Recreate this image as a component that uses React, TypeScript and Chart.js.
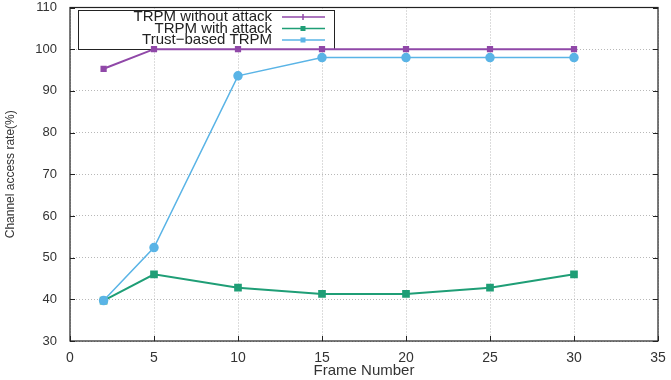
import React, { useEffect, useRef } from "react";
import { Chart, registerables } from "chart.js";

Chart.register(...registerables);

const frames = [2, 5, 10, 15, 20, 25, 30];
const withoutAttack = [95.3, 100, 100, 100, 100, 100, 100];
const withAttack = [39.7, 46, 42.8, 41.3, 41.3, 42.8, 46];
const trustBased = [39.7, 52.4, 93.6, 98, 98, 98, 98];
const seriesLabels = ["TRPM without attack", "TRPM with attack", "Trust\u2212based TRPM"];
const seriesColors = ["#9048a8", "#1f9e76", "#5ab4e6"];
const xTicks = [0, 5, 10, 15, 20, 25, 30, 35];
const yTicks = [30, 40, 50, 60, 70, 80, 90, 100, 110];

const FONT = "'Liberation Sans', Arial, sans-serif";

const legendPlugin = {
  id: "boxLegend",
  beforeDatasetsDraw(chart: any) {
    const ctx = chart.ctx;
    const x0 = 78, y0 = 10, w = 256, h = 39;
    ctx.save();
    ctx.fillStyle = "#ffffff";
    ctx.fillRect(x0, y0, w, h);
    ctx.strokeStyle = "#222";
    ctx.lineWidth = 1;
    ctx.strokeRect(x0 + 0.5, y0 + 0.5, w, h);
    ctx.font = `15px ${FONT}`;
    ctx.textAlign = "right";
    ctx.textBaseline = "middle";
    const rows = [17, 28.5, 40];
    chart.data.datasets.forEach((ds: any, i: number) => {
      const y = rows[i];
      ctx.fillStyle = "#222";
      ctx.fillText(ds.label, 272, y);
      ctx.strokeStyle = ds.borderColor;
      ctx.lineWidth = 1.5;
      ctx.beginPath();
      ctx.moveTo(282, y);
      ctx.lineTo(325, y);
      ctx.stroke();
      ctx.fillStyle = ds.borderColor;
      const cx = 303;
      if (i === 0) {
        ctx.beginPath();
        ctx.moveTo(cx, y - 3);
        ctx.lineTo(cx, y + 3);
        ctx.stroke();
      } else {
        ctx.fillRect(cx - 2.5, y - 2.5, 5, 5);
      }
    });
    ctx.restore();
  },
};

const tickPlugin = {
  id: "innerTicks",
  afterDatasetsDraw(chart: any) {
    const { ctx, chartArea: a, scales } = chart;
    ctx.save();
    ctx.strokeStyle = "#222";
    ctx.lineWidth = 1;
    ctx.beginPath();
    yTicks.forEach((v) => {
      const y = Math.round(scales.y.getPixelForValue(v)) + 0.5;
      ctx.moveTo(a.left, y);
      ctx.lineTo(a.left + 5, y);
      ctx.moveTo(a.right, y);
      ctx.lineTo(a.right - 5, y);
    });
    xTicks.forEach((v) => {
      const x = Math.round(scales.x.getPixelForValue(v)) + 0.5;
      ctx.moveTo(x, a.bottom);
      ctx.lineTo(x, a.bottom - 5);
    });
    ctx.stroke();
    ctx.lineWidth = 1.2;
    ctx.strokeRect(a.left, a.top, a.right - a.left, a.bottom - a.top);
    ctx.restore();
  },
};

const zeroPad = (s: any) => {
  s.paddingTop = 0;
  s.paddingBottom = 0;
  s.paddingLeft = 0;
  s.paddingRight = 0;
};

export default function App() {
  const ref = useRef<HTMLCanvasElement>(null);
  useEffect(() => {
    document.body.style.margin = "0";
    const mk = (vals: number[]) => frames.map((f, i) => ({ x: f, y: vals[i] }));
    const chart = new Chart(ref.current!, {
      type: "line",
      data: {
        datasets: [
          {
            label: seriesLabels[0],
            data: mk(withoutAttack),
            borderColor: seriesColors[0],
            backgroundColor: seriesColors[0],
            borderWidth: 2,
            pointStyle: "rect",
            pointRadius: 3,
            order: 1,
          },
          {
            label: seriesLabels[1],
            data: mk(withAttack),
            borderColor: seriesColors[1],
            backgroundColor: seriesColors[1],
            borderWidth: 2,
            pointStyle: "rect",
            pointRadius: 4,
            order: 2,
          },
          {
            label: seriesLabels[2],
            data: mk(trustBased),
            borderColor: seriesColors[2],
            backgroundColor: seriesColors[2],
            borderWidth: 1.5,
            pointStyle: "circle",
            pointRadius: 4,
            order: 0,
          },
        ],
      },
      options: {
        animation: false,
        responsive: false,
        layout: { padding: { top: 7.5, right: 13, left: 0, bottom: 0 } },
        plugins: { legend: { display: false }, tooltip: { enabled: false } },
        scales: {
          x: {
            type: "linear",
            min: 0,
            max: 35,
            afterBuildTicks: (s: any) => { s.ticks = xTicks.map((v) => ({ value: v })); },
            afterFit: (s: any) => { s.height = 39; zeroPad(s); },
            grid: { color: "#b8b8b8", drawTicks: false } as any,
            border: { display: false, dash: [1, 2] } as any,
            ticks: { color: "#333", font: { family: FONT, size: 14 }, padding: 9 },
            title: { display: true, text: "Frame Number", color: "#333", font: { family: FONT, size: 15 }, padding: { top: 4, bottom: 0 } },
          },
          y: {
            min: 30,
            max: 110,
            afterBuildTicks: (s: any) => { s.ticks = yTicks.map((v) => ({ value: v })); },
            afterFit: (s: any) => { s.width = 70; zeroPad(s); },
            grid: { color: "#b8b8b8", drawTicks: false } as any,
            border: { display: false, dash: [1, 2] } as any,
            ticks: { color: "#333", font: { family: FONT, size: 13 }, padding: 13 },
            title: { display: true, text: "Channel access rate(%)", color: "#333", font: { family: FONT, size: 12 }, padding: { top: 3, bottom: 5 } },
          },
        },
      },
      plugins: [tickPlugin, legendPlugin],
    });
    return () => chart.destroy();
  }, []);
  return (
    <div style={{ width: 671, height: 380, background: "#fff" }}>
      <canvas ref={ref} width={671} height={380} />
    </div>
  );
}
